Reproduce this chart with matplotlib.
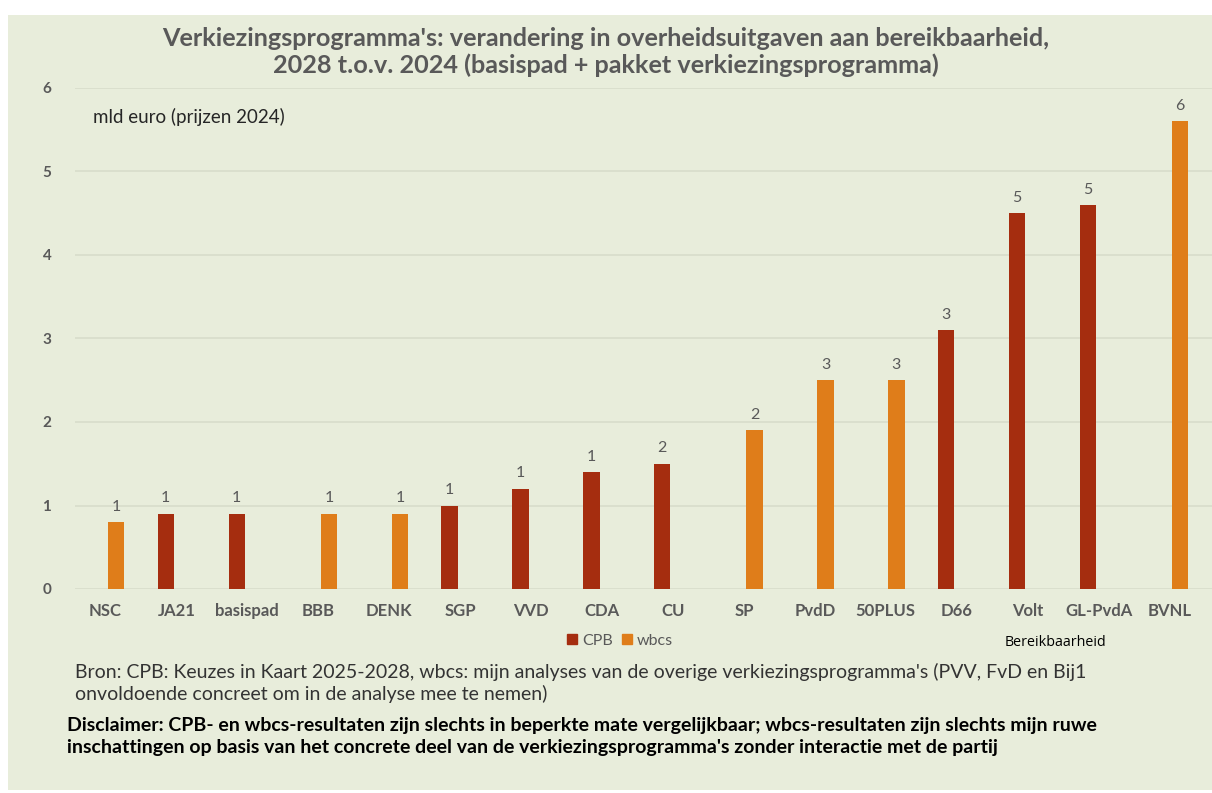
import matplotlib.pyplot as plt
import matplotlib.patches as mpatches
import numpy as np

# data
parties = ["NSC", "JA21", "basispad", "BBB", "DENK", "SGP", "VVD", "CDA", "CU",
           "SP", "PvdD", "50PLUS", "D66", "Volt", "GL-PvdA", "BVNL"]
values = [0.8, 0.9, 0.9, 0.9, 0.9, 1.0, 1.2, 1.4, 1.5,
          1.9, 2.5, 2.5, 3.1, 4.5, 4.6, 5.6]
source = ["wbcs", "CPB", "CPB", "wbcs", "wbcs", "CPB", "CPB", "CPB", "CPB",
          "wbcs", "wbcs", "wbcs", "CPB", "CPB", "CPB", "wbcs"]
value_labels = ["1", "1", "1", "1", "1", "1", "1", "1", "2",
                "2", "3", "3", "3", "5", "5", "6"]

col_cpb = "#A52D0F"
col_wbcs = "#DF7D1A"
bg = "#E8EDDB"
grey = "#595959"

plt.rcParams['font.family'] = ['Lato', 'DejaVu Sans']

fig = plt.figure(figsize=(12.12, 7.93), dpi=100)
fig.patch.set_facecolor("white")
fig.patches.append(mpatches.Rectangle((8 / 1212, 3 / 793), 1 - 8 / 1212, 1 - 18 / 793,
                                      transform=fig.transFigure, facecolor=bg,
                                      edgecolor="none", zorder=-10))

ax = fig.add_axes([75 / 1212, 1 - 589 / 793, 1137 / 1212, 501 / 793])
ax.set_facecolor("none")

x = np.arange(len(parties))
w = 0.23
off = 0.15
for i, (v, s) in enumerate(zip(values, source)):
    if s == "CPB":
        xp = x[i] - off
        c = col_cpb
    else:
        xp = x[i] + off
        c = col_wbcs
    ax.bar(xp, v, width=w, color=c, zorder=3)
    ax.text(xp, v + 0.1, value_labels[i], ha="center", va="bottom",
            fontsize=11.5, color=grey)

ax.set_xlim(-0.43, 15.6)
ax.set_ylim(0, 6)
ax.set_yticks(range(7))
ax.grid(axis="y", color="#D8DDCB", linewidth=1.2, zorder=0)
ax.set_xticks(x)
ax.set_xticklabels(parties, fontsize=12, fontweight="bold", color=grey)
ax.tick_params(axis="x", length=0, pad=10)
ax.tick_params(axis="y", length=0, pad=17, labelsize=11, labelcolor=grey)
for t in ax.get_yticklabels():
    t.set_fontweight("bold")
for sp in ax.spines.values():
    sp.set_visible(False)

fig.text(93 / 1212, 1 - 117 / 793, "mld euro (prijzen 2024)",
         fontsize=13.5, color="#262626", va="center", ha="left")

fig.text(0.5, 1 - 38 / 793,
         "Verkiezingsprogramma's: verandering in overheidsuitgaven aan bereikbaarheid,",
         ha="center", va="center", fontsize=18.2, fontweight="bold", color=grey)
fig.text(0.5, 1 - 65 / 793,
         "2028 t.o.v. 2024 (basispad + pakket verkiezingsprogramma)",
         ha="center", va="center", fontsize=18.2, fontweight="bold", color=grey)

# legend
handles = [mpatches.Patch(color=col_cpb, label="CPB"),
           mpatches.Patch(color=col_wbcs, label="wbcs")]
fig.legend(handles=handles, loc="center", bbox_to_anchor=(620 / 1212, 1 - 641 / 793),
           ncol=2, frameon=False, fontsize=11.5, labelcolor=grey,
           handlelength=0.6, handleheight=0.6, handletextpad=0.3, columnspacing=0.6)

fig.text(1055 / 1212, 1 - 642 / 793, "Bereikbaarheid", ha="center", va="center",
         fontsize=10.3, color="black", family=["Open Sans", "DejaVu Sans"])

fig.text(75 / 1212, 1 - 672 / 793,
         "Bron: CPB: Keuzes in Kaart 2025-2028, wbcs: mijn analyses van de overige verkiezingsprogramma's (PVV, FvD en Bij1",
         ha="left", va="center", fontsize=14, color="#333333")
fig.text(75 / 1212, 1 - 694 / 793,
         "onvoldoende concreet om in de analyse mee te nemen)",
         ha="left", va="center", fontsize=14, color="#333333")
fig.text(67 / 1212, 1 - 726 / 793,
         "Disclaimer: CPB- en wbcs-resultaten zijn slechts in beperkte mate vergelijkbaar; wbcs-resultaten zijn slechts mijn ruwe",
         ha="left", va="center", fontsize=14, fontweight="bold", color="black")
fig.text(67 / 1212, 1 - 748 / 793,
         "inschattingen op basis van het concrete deel van de verkiezingsprogramma's zonder interactie met de partij",
         ha="left", va="center", fontsize=14, fontweight="bold", color="black")

fig.savefig("out.png", dpi=100, facecolor=fig.get_facecolor())
